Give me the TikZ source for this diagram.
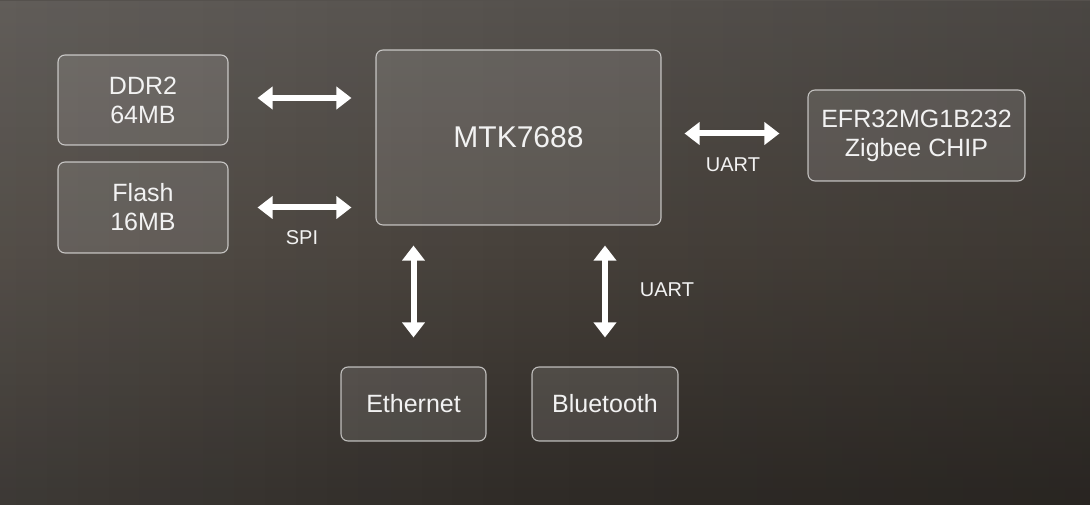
\documentclass[tikz,border=0pt]{standalone}
\usepackage{fontspec}
\setmainfont{Liberation Sans}
\usetikzlibrary{arrows.meta,positioning,calc,fadings}
\definecolor{bgtop}{HTML}{55514D}
\definecolor{bgmid}{HTML}{46403A}
\definecolor{bgbot}{HTML}{2E2A26}
\definecolor{txt}{HTML}{F2F2F2}
\tikzset{
  blk/.style={draw=white, draw opacity=0.65, line width=1.1pt, rounded corners=7pt,
    fill=white, fill opacity=0.11, text opacity=1, text=txt, align=center, inner sep=0pt},
  big/.style={font=\fontsize{25}{29}\selectfont},
  huge/.style={font=\fontsize{30}{34}\selectfont},
  lbl/.style={text=txt, font=\fontsize{20}{24}\selectfont, inner sep=0pt},
  dbl/.style={draw=white, line width=6pt,
    {Triangle[length=15pt,width=22pt]}-{Triangle[length=15pt,width=22pt]}}
}
\begin{document}
\begin{tikzpicture}[x=1pt,y=-1pt]
\useasboundingbox (0,0) rectangle (1090,505);
% background
\shade[top color=bgtop, bottom color=bgbot, middle color=bgmid] (0,0) rectangle (1090,505);
\fill[white, fill opacity=0.07, path fading=east] (0,0) rectangle (560,505);
\fill[black, fill opacity=0.12, path fading=west] (560,0) rectangle (1090,505);

% blocks
\node[blk, big, minimum width=170, minimum height=90] (ddr) at (143,100) {DDR2\\64MB};
\node[blk, big, minimum width=170, minimum height=91] (flash) at (143,207.5) {Flash\\16MB};
\node[blk, huge, minimum width=285, minimum height=175] (mtk) at (518.5,137.5) {MTK7688};
\node[blk, big, minimum width=217, minimum height=91] (efr) at (916.5,135.5) {EFR32MG1B232\\Zigbee CHIP};
\node[blk, big, minimum width=145, minimum height=74] (eth) at (413.5,404) {Ethernet};
\node[blk, big, minimum width=146, minimum height=74] (bt) at (605,404) {Bluetooth};

% connectors
\draw[dbl, shorten <=29pt, shorten >=24pt] ($(ddr.east)+(0,-2)$) -- ($(ddr.east -| mtk.west)+(0,-2)$);
\draw[dbl, shorten <=29pt, shorten >=24pt] (flash.east) -- (flash.east -| mtk.west);
\draw[dbl, shorten <=23pt, shorten >=28pt] ($(mtk.east)+(0,-4)$) -- ($(mtk.east -| efr.west)+(0,-4)$);
\draw[dbl, shorten <=20pt, shorten >=29pt] (eth.north |- mtk.south) -- (eth.north);
\draw[dbl, shorten <=20pt, shorten >=29pt] (bt.north |- mtk.south) -- (bt.north);

% labels
\node[lbl] (spi) at (302,238) {SPI};
\node[lbl] (uart1) at (733,165) {UART};
\node[lbl] (uart2) at (667,290) {UART};
\end{tikzpicture}
\end{document}
